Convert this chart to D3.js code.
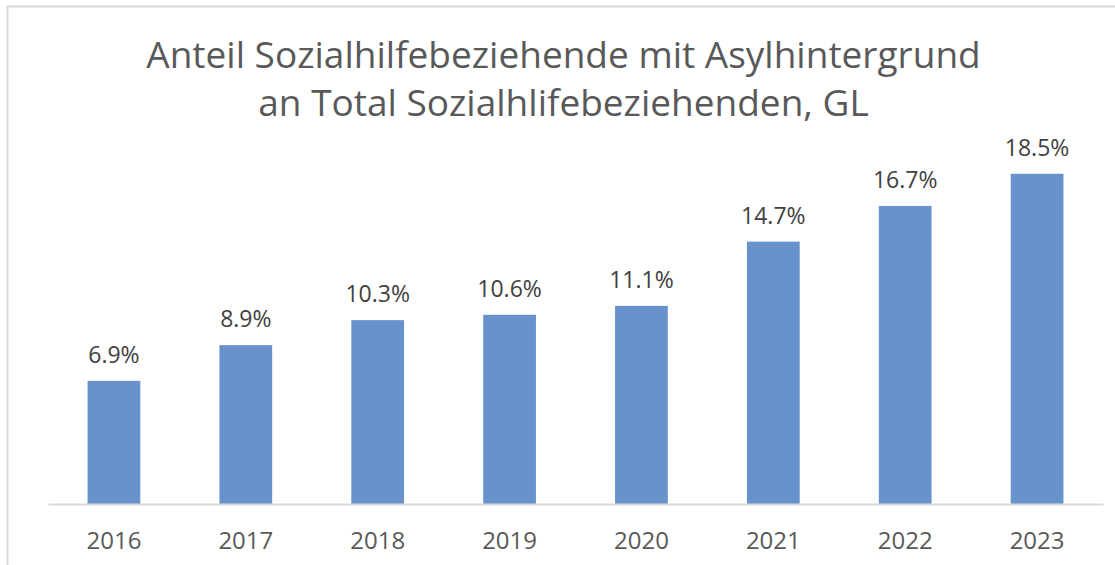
<!DOCTYPE html>
<html>
<head>
<meta charset="utf-8">
<script src="https://cdn.jsdelivr.net/npm/d3@7"></script>
<style>
  body { margin: 0; background: #fff; }
  svg { display: block; font-family: "Open Sans", sans-serif; }
</style>
</head>
<body>
<div id="chart"></div>
<script>
// Data
const years = ["2016", "2017", "2018", "2019", "2020", "2021", "2022", "2023"];
const shares = [6.9, 8.9, 10.3, 10.6, 11.1, 14.7, 16.7, 18.5];
const titleLines = ["Anteil Sozialhilfebeziehende mit Asylhintergrund",
                    "an Total Sozialhlifebeziehenden, GL"];

const W = 1115, H = 565;
const margin = {top: 147, right: 12, bottom: 61, left: 48},
      width = W - margin.left - margin.right,
      height = H - margin.top - margin.bottom;

const svg = d3.select("#chart").append("svg")
    .attr("width", W)
    .attr("height", H);

// Chart frame (clipped at right and bottom)
svg.append("rect")
   .attr("x", 7.5).attr("y", 6.5)
   .attr("width", W).attr("height", H)
   .attr("fill", "none")
   .attr("stroke", "#d9d9d9")
   .attr("stroke-width", 2);

// Title
svg.append("text")
   .attr("text-anchor", "middle")
   .attr("fill", "#595959")
   .style("font-size", "37px")
   .selectAll("tspan")
   .data(titleLines)
 .enter().append("tspan")
   .attr("x", 563.5)
   .attr("y", (d, i) => 68 + i * 48)
   .text(d => d);

const g = svg.append("g")
    .attr("transform", `translate(${margin.left},${margin.top})`);

const x = d3.scaleBand().domain(years).range([0, width]).paddingInner(0.6).paddingOuter(0.3);
const y = d3.scaleLinear().domain([0, 20]).range([height, 0]);

g.selectAll(".bar")
   .data(years)
 .enter().append("rect")
   .attr("class", "bar")
   .attr("x", d => x(d))
   .attr("width", x.bandwidth())
   .attr("y", (d, i) => y(shares[i]))
   .attr("height", (d, i) => height - y(shares[i]))
   .attr("fill", "#6792cb");

// Value labels
g.selectAll(".lbl")
   .data(years)
 .enter().append("text")
   .attr("class", "lbl")
   .attr("x", d => x(d) + x.bandwidth() / 2)
   .attr("y", (d, i) => y(shares[i]) - 18)
   .attr("text-anchor", "middle")
   .attr("fill", "#404040")
   .style("font-size", "23px")
   .text((d, i) => shares[i].toFixed(1) + "%");

// X axis
const xAxis = g.append("g")
   .attr("transform", `translate(0,${height})`)
   .call(d3.axisBottom(x).tickSize(0).tickPadding(28));
xAxis.select(".domain").attr("stroke", "#d9d9d9").attr("stroke-width", 2);
xAxis.selectAll("text")
   .attr("fill", "#595959")
   .style("font-family", "Open Sans, sans-serif")
   .style("font-size", "24px");
</script>
</body>
</html>
